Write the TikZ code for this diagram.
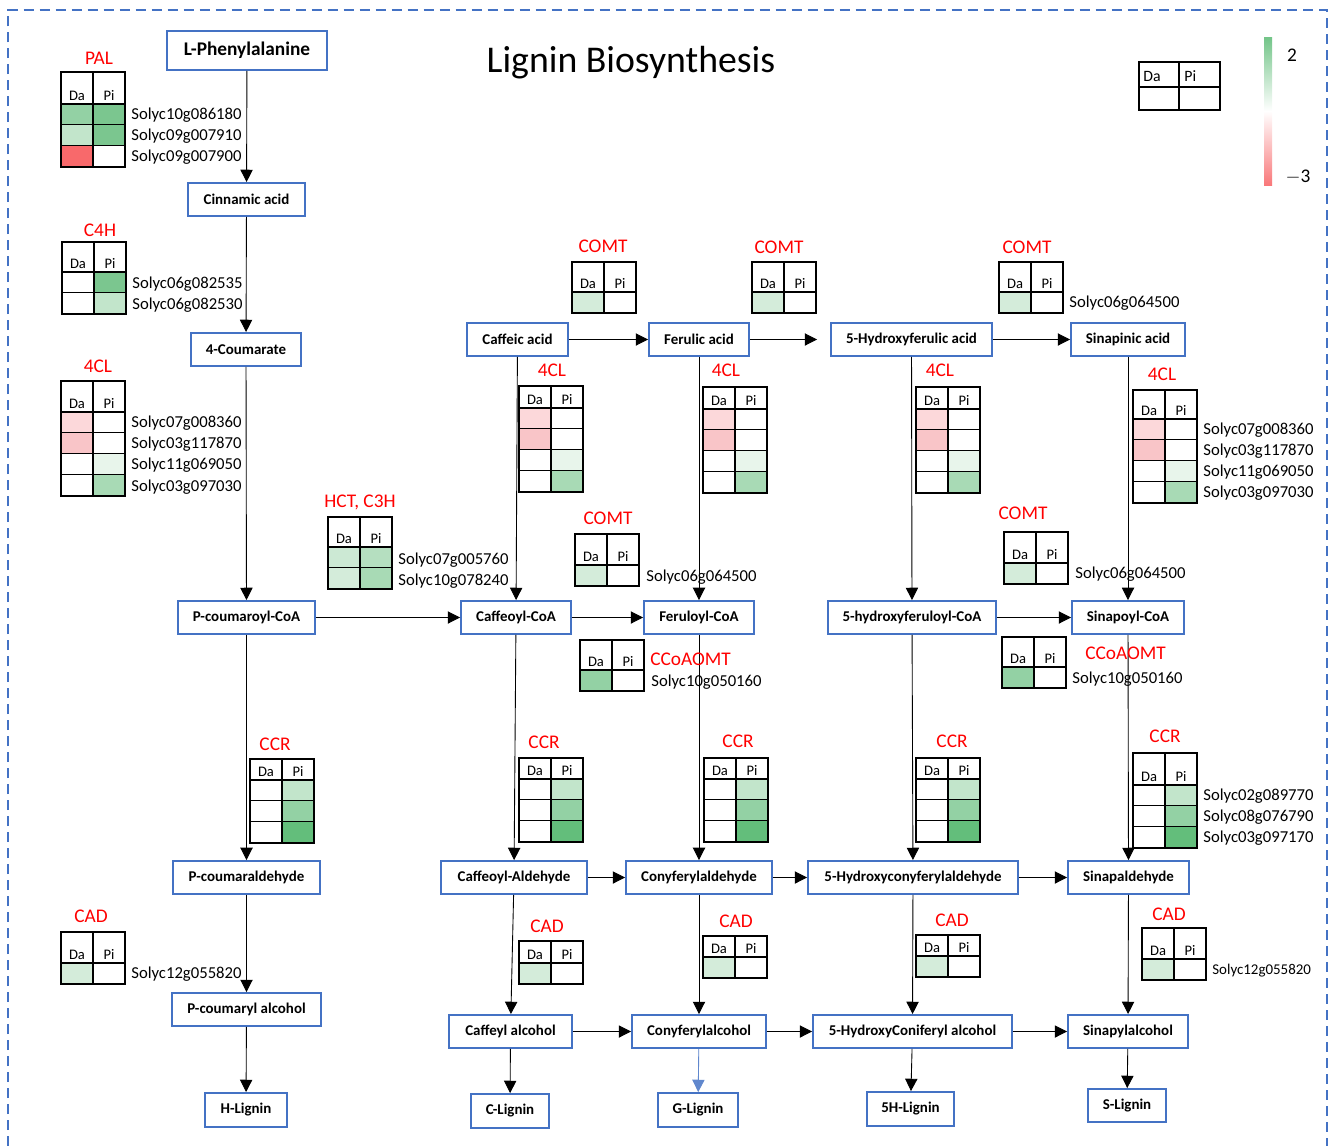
\documentclass[tikz,border=0pt]{standalone}
\usepackage{fontspec}
\setmainfont{Carlito}
\usetikzlibrary{arrows.meta}
\definecolor{boxblue}{HTML}{4472C4}
\definecolor{g1}{HTML}{D4ECDA}
\definecolor{g1b}{HTML}{CCE9D4}
\definecolor{g2}{HTML}{C2E5CB}
\definecolor{g3}{HTML}{A8DAB5}
\definecolor{g3b}{HTML}{B5DFC0}
\definecolor{g4}{HTML}{93D1A4}
\definecolor{g5}{HTML}{7BC68F}
\definecolor{g6}{HTML}{63BE7B}
\definecolor{gx}{HTML}{E8F5EB}
\definecolor{r1}{HTML}{FCD8DA}
\definecolor{r2}{HTML}{F9C5C8}
\definecolor{r3}{HTML}{F8696B}

\newcommand{\heat}[5]{%
  \begin{scope}[shift={(#1,#2)}]
    \foreach \a/\b [count=\i] in {#5} {
      \fill[\a] (0,{#3+(\i-1)*21}) rectangle (32,{#3+\i*21});
      \fill[\b] (32,{#3+(\i-1)*21}) rectangle (64,{#3+\i*21});
      \draw[cellline] (0,{#3+\i*21}) -- (64,{#3+\i*21});
    }
    \draw[cellline] (0,#3) -- (64,#3) (32,0) -- (32,{#3+#4*21});
    \draw[cellline] (0,0) rectangle (64,{#3+#4*21});
    \node[hd] at (16,#3-1) {Da};
    \node[hd] at (48,#3-1) {Pi};
  \end{scope}}

\begin{document}
\begin{tikzpicture}[x=0.02cm, y=-0.02cm,
    box/.style={draw=boxblue, line width=1.1pt, fill=white, inner sep=1pt,
      font=\bfseries\fontsize{8.5}{10}\selectfont, minimum height=0.66cm},
    arr/.style={-{Triangle[length=7pt,width=7pt]}, line width=0.5pt},
    enz/.style={text=red, font=\fontsize{11}{13}\selectfont},
    gene/.style={anchor=west, inner sep=0pt, font=\fontsize{9.5}{11}\selectfont},
    hd/.style={anchor=south, inner sep=1pt, font=\fontsize{8.3}{9}\selectfont},
    cellline/.style={line width=1.2pt}]
\useasboundingbox (0,0) rectangle (1332,1146);
\draw[boxblue, line width=1.4pt, dash pattern=on 0.2cm off 0.12cm]
  (8,1146) -- (8,10) -- (1327,10) -- (1327,1146);

\node (title) at (631,63) {\fontsize{21.5}{25}\selectfont Lignin Biosynthesis};

% legend
\draw[cellline] (1139,62) rectangle (1220,110) (1139,87) -- (1220,87) (1179,62) -- (1179,110);
\node[gene, font=\fontsize{9}{10}\selectfont] (legda) at (1143,76) {Da};
\node[gene, font=\fontsize{9}{10}\selectfont] (legpi) at (1184,76) {Pi};
\shade[top color=g6!90, bottom color=r3!90, middle color=white] (1264,37) rectangle (1272,185);
\node (lmax) at (1292,55) {\fontsize{11}{13}\selectfont 2};
\node (lmin) at (1298,177) {\fontsize{11}{13}\selectfont $-$3};

% compounds
\node[box, minimum width=3.2cm, minimum height=0.78cm, font=\bfseries\fontsize{11}{13}\selectfont] (lphe) at (247,50.5) {L-Phenylalanine};
\node[box, minimum width=2.34cm] (cinn) at (246.5,199.5) {Cinnamic acid};
\node[box, minimum width=2.2cm] (coum) at (246,349.5) {4-Coumarate};
\node[box, minimum width=2.74cm] (pcoa) at (246.5,617.5) {P-coumaroyl-CoA};
\node[box, minimum width=2.94cm] (pald) at (246.5,877.5) {P-coumaraldehyde};
\node[box, minimum width=2.98cm] (palc) at (246.5,1009.5) {P-coumaryl alcohol};
\node[box, minimum width=1.64cm, minimum height=0.68cm] (hlig) at (246,1110) {H-Lignin};

\node[box, minimum width=2.02cm] (caff) at (517.5,339.5) {Caffeic acid};
\node[box, minimum width=2.2cm] (caffcoa) at (516,617.5) {Caffeoyl-CoA};
\node[box, minimum width=2.92cm] (caffald) at (514,877.5) {Caffeoyl-Aldehyde};
\node[box, minimum width=2.46cm] (caffalc) at (510.5,1031.5) {Caffeyl alcohol};
\node[box, minimum width=1.56cm, minimum height=0.68cm] (clig) at (510,1111) {C-Lignin};

\node[box, minimum width=2.0cm] (feru) at (699,339.5) {Ferulic acid};
\node[box, minimum width=2.2cm] (ferucoa) at (699,617.5) {Feruloyl-CoA};
\node[box, minimum width=2.92cm] (conald) at (699,877.5) {Conyferylaldehyde};
\node[box, minimum width=2.68cm] (conalc) at (699,1031.5) {Conyferylalcohol};
\node[box, minimum width=1.6cm, minimum height=0.68cm] (glig) at (698,1110) {G-Lignin};

\node[box, minimum width=3.22cm] (hfer) at (911.5,339.5) {5-Hydroxyferulic acid};
\node[box, minimum width=3.36cm] (hfercoa) at (912,617.5) {5-hydroxyferuloyl-CoA};
\node[box, minimum width=4.2cm] (hconald) at (913,877.5) {5-Hydroxyconyferylaldehyde};
\node[box, minimum width=3.98cm] (hconalc) at (912.5,1031.5) {5-HydroxyConiferyl alcohol};
\node[box, minimum width=1.74cm, minimum height=0.68cm] (fhlig) at (910.5,1109) {5H-Lignin};

\node[box, minimum width=2.28cm] (sina) at (1128,339.5) {Sinapinic acid};
\node[box, minimum width=2.24cm] (sinacoa) at (1128,617.5) {Sinapoyl-CoA};
\node[box, minimum width=2.42cm] (sinald) at (1128.5,877.5) {Sinapaldehyde};
\node[box, minimum width=2.4cm] (sinalc) at (1128,1031.5) {Sinapylalcohol};
\node[box, minimum width=1.56cm, minimum height=0.66cm] (slig) at (1127,1105.5) {S-Lignin};

% reactions
\draw[arr] (lphe) -- (cinn);
\draw[arr] (cinn) -- (coum);
\draw[arr] (coum) -- (pcoa);
\draw[arr] (pcoa) -- (pald);
\draw[arr] (pald) -- (palc);
\draw[arr] (palc) -- (hlig);
\draw[arr] (caff) -- (caffcoa);
\draw[arr] (caffcoa) -- (caffald);
\draw[arr] (caffald) -- (caffalc);
\draw[arr] (caffalc) -- (clig);
\draw[arr] (feru) -- (ferucoa);
\draw[arr] (ferucoa) -- (conald);
\draw[arr] (conald) -- (conalc);
\draw[arr, draw=boxblue!85, fill=boxblue!85] (conalc) -- (glig);
\draw[arr] (hfer) -- (hfercoa);
\draw[arr] (hfercoa) -- (hconald);
\draw[arr] (hconald) -- (hconalc);
\draw[arr] (hconalc) -- (fhlig);
\draw[arr] (sina) -- (sinacoa);
\draw[arr] (sinacoa) -- (sinald);
\draw[arr] (sinald) -- (sinalc);
\draw[arr] (sinalc) -- (slig);
\draw[arr] (caff) -- (feru);
\draw[arr, shorten >=0.26cm] (feru) -- (hfer);
\draw[arr] (hfer) -- (sina);
\draw[arr] (pcoa) -- (caffcoa);
\draw[arr] (caffcoa) -- (ferucoa);
\draw[arr] (hfercoa) -- (sinacoa);
\draw[arr] (caffald) -- (conald);
\draw[arr] (conald) -- (hconald);
\draw[arr] (hconald) -- (sinald);
\draw[arr] (caffalc) -- (conalc);
\draw[arr] (conalc) -- (hconalc);
\draw[arr] (hconalc) -- (sinalc);

% PAL, C4H, 4CL
\node[enz] (pal) at (99,58) {PAL};
\heat{61}{72}{32}{3}{g4/g5, g2/g5, r3/white}
\node[gene] (pal1) at (131,115) {Solyc10g086180};
\node[gene] (pal2) at (131,136) {Solyc09g007910};
\node[gene] (pal3) at (131,157) {Solyc09g007900};

\node[enz] (c4h) at (100,230) {C4H};
\heat{62}{242}{30}{2}{white/g5, white/g2}
\node[gene] (c4h1) at (132,284) {Solyc06g082535};
\node[gene] (c4h2) at (132,305) {Solyc06g082530};

\node[enz] (fcl) at (98,366) {4CL};
\heat{61}{381}{31}{4}{r1/white, r2/white, white/gx, white/g3}
\node[gene] (fcl1) at (131,423) {Solyc07g008360};
\node[gene] (fcl2) at (131,444) {Solyc03g117870};
\node[gene] (fcl3) at (131,465) {Solyc11g069050};
\node[gene] (fcl4) at (131,487) {Solyc03g097030};

\node[enz] (hct) at (360,502) {HCT, C3H};
\heat{328}{517}{30}{2}{g1b/g3b, g1/g3}
\node[gene] (hct1) at (398,560) {Solyc07g005760};
\node[gene] (hct2) at (398,581) {Solyc10g078240};

% COMT
\node[enz] (comta) at (603,246) {COMT};
\heat{572}{262}{30}{1}{g1/white}
\node[enz] (comtb) at (779,247) {COMT};
\heat{752}{262}{30}{1}{g1/white}
\node[enz] (comtc) at (1027,247) {COMT};
\heat{999}{262}{30}{1}{g1/white}
\node[gene] (comtc1) at (1069,303) {Solyc06g064500};
\node[enz] (comtd) at (608,518) {COMT};
\heat{575}{534}{31}{1}{g1/white}
\node[gene] (comtd1) at (646,577) {Solyc06g064500};
\node[enz] (comte) at (1023,513) {COMT};
\heat{1004}{532}{31}{1}{g1/white}
\node[gene] (comte1) at (1075,574) {Solyc06g064500};

% 4CL
\node[enz] (fcla) at (552,370) {4CL};
\heat{519}{386}{22}{4}{r1/white, r2/white, white/gx, white/g3}
\node[enz] (fclb) at (726,370) {4CL};
\heat{703}{387}{22}{4}{r1/white, r2/white, white/gx, white/g3}
\node[enz] (fclc) at (940,370) {4CL};
\heat{916}{387}{22}{4}{r1/white, r2/white, white/gx, white/g3}
\node[enz] (fcld) at (1162,374) {4CL};
\heat{1133}{390}{29}{4}{r1/white, r2/white, white/gx, white/g3}
\node[gene] (fcld1) at (1203,430) {Solyc07g008360};
\node[gene] (fcld2) at (1203,451) {Solyc03g117870};
\node[gene] (fcld3) at (1203,472) {Solyc11g069050};
\node[gene] (fcld4) at (1203,493) {Solyc03g097030};

% CCoAOMT
\heat{580}{640}{30}{1}{g4/white}
\node[enz, anchor=west, inner sep=0pt] (ccoa) at (650,659) {CCoAOMT};
\node[gene] (ccoa1) at (651,682) {Solyc10g050160};
\heat{1002}{637}{30}{1}{g4/white}
\node[enz, anchor=west, inner sep=0pt] (ccob) at (1085,653) {CCoAOMT};
\node[gene] (ccob1) at (1072,679) {Solyc10g050160};

% CCR
\node[enz] (ccra) at (275,744) {CCR};
\heat{250}{759}{21}{3}{white/g2, white/g4, white/g6}
\node[enz] (ccrb) at (544,742) {CCR};
\heat{519}{758}{21}{3}{white/g2, white/g4, white/g6}
\node[enz] (ccrc) at (738,741) {CCR};
\heat{704}{758}{21}{3}{white/g2, white/g4, white/g6}
\node[enz] (ccrd) at (952,741) {CCR};
\heat{916}{758}{21}{3}{white/g2, white/g4, white/g6}
\node[enz] (ccre) at (1165,736) {CCR};
\heat{1133}{753}{32}{3}{white/g2, white/g4, white/g6}
\node[gene] (ccre1) at (1203,796) {Solyc02g089770};
\node[gene] (ccre2) at (1203,817) {Solyc08g076790};
\node[gene] (ccre3) at (1203,838) {Solyc03g097170};

% CAD
\node[enz] (cada) at (91,916) {CAD};
\heat{61}{932}{31}{1}{g1/white}
\node[gene] (cada1) at (131,974) {Solyc12g055820};
\node[enz] (cadb) at (547,926) {CAD};
\heat{519}{941}{22}{1}{g1/white}
\node[enz] (cadc) at (736,921) {CAD};
\heat{703}{936}{21}{1}{g1/white}
\node[enz] (cadd) at (952,920) {CAD};
\heat{916}{935}{21}{1}{g1/white}
\node[enz] (cade) at (1169,914) {CAD};
\heat{1142}{928}{31}{1}{g1/white}
\node[gene, font=\fontsize{8.5}{10}\selectfont] (cade1) at (1212,971) {Solyc12g055820};
\end{tikzpicture}
\end{document}
